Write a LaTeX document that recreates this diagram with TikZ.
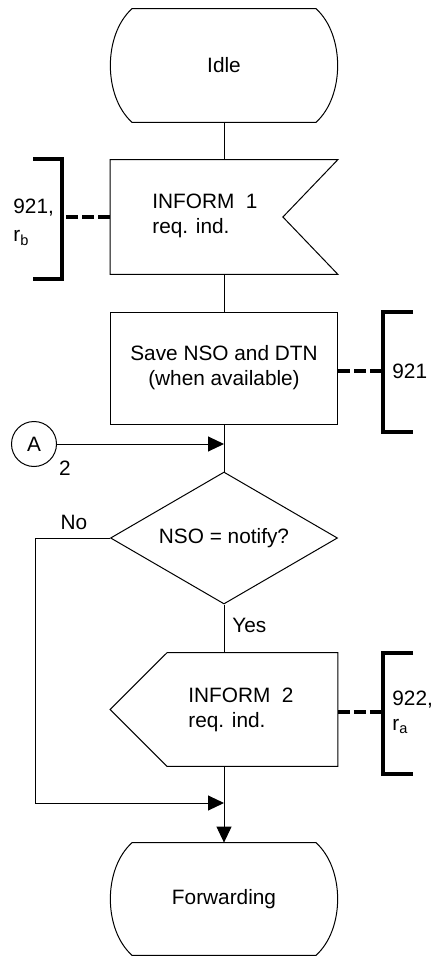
\documentclass[tikz,border=0pt]{standalone}
\usepackage{fontspec}
\setmainfont{Liberation Sans}
\usepackage{tikz}
\usetikzlibrary{shapes.geometric, arrows.meta, positioning, calc}
\tikzset{
  txt/.style={font=\fontsize{10.4}{12.5}\selectfont, inner sep=0pt},
  shapebox/.style={rectangle, minimum width=113.5pt, inner sep=0pt},
  procbox/.style={shapebox, draw, line width=0.5pt, align=center, txt},
  decision/.style={diamond, draw, line width=0.5pt, minimum width=113.5pt,
    minimum height=66pt, aspect=1.72, inner sep=0pt, txt},
  connector/.style={circle, draw, line width=0.5pt, minimum size=22.5pt,
    inner sep=0pt, txt},
  flow/.style={line width=0.5pt},
  flowarrow/.style={flow, -{Triangle[length=8pt,width=7.5pt]}},
  bracket/.style={line width=1.7pt},
  commentline/.style={line width=1.7pt, dash pattern=on 6pt off 2pt}
}
% state symbol: straight top and bottom, bulging sides
\newcommand{\stateshape}[1]{%
  \draw[flow] ($(#1.north west)+(22,0)$) -- ($(#1.north east)+(-22,0)$)
    .. controls ($(#1.north east)+(7,26)$) and ($(#1.south east)+(7,-26)$) .. ($(#1.south east)+(-22,0)$)
    -- ($(#1.south west)+(22,0)$)
    .. controls ($(#1.south west)+(-7,-26)$) and ($(#1.north west)+(-7,26)$) .. cycle;}
\begin{document}
\begin{tikzpicture}[x=0.5pt, y=-0.5pt]
  \useasboundingbox (0,0) rectangle (433,957);

  % States
  \node[shapebox, minimum height=56.5pt, txt] (idle) at (224,65.5) {Idle};
  \stateshape{idle}
  \node[shapebox, minimum height=56pt, txt] (fwd) at (224,899) {Forwarding};
  \stateshape{fwd}

  % Input signal
  \node[shapebox, minimum height=57pt] (inf1) at (224,217) {};
  \draw[flow] (inf1.north west) -- (inf1.north east) -- ($(inf1.east)+(-55,0)$)
    -- (inf1.south east) -- (inf1.south west) -- cycle;
  \node[txt, align=left, anchor=west] (inf1txt) at (152,216) {INFORM~~1\\req. ind.};

  % Task
  \node[procbox, minimum height=56pt] (save) at (224,368)
    {Save NSO and DTN\\(when available)};

  % Decision
  \node[decision] (dec) at (224,538) {NSO = notify?};

  % Output signal
  \node[shapebox, minimum height=56.5pt] (inf2) at (224,709.5) {};
  \draw[flow] ($(inf2.north west)+(57,0)$) -- (inf2.north east) -- (inf2.south east)
    -- ($(inf2.south west)+(57,0)$) -- (inf2.west) -- cycle;
  \node[txt, align=left, anchor=west] (inf2txt) at (188,710) {INFORM~~2\\req. ind.};

  % Connector A
  \node[connector] (conA) at (34,444) {A};
  \node[txt] (conAnum) at (65,468) {2};

  % Flow lines
  \draw[flow] (idle.south) -- (inf1.north);
  \draw[flow] (inf1.south) -- (save.north);
  \draw[flow] (save.south) -- (dec.north);
  \draw[flowarrow] (conA) -- (dec.north |- conA);
  \draw[flow] (dec.south) -- (inf2.north);
  \draw[flowarrow] (inf2.south) -- (fwd.north);
  \coordinate (nobend) at (35,538);
  \coordinate (merge) at (224,803);
  \draw[flowarrow] (dec.west) -- (nobend) |- (merge);
  \node[txt] (nolbl) at (74,522) {No};
  \node[txt, anchor=west] (yeslbl) at (232,625) {Yes};

  % Comments
  \coordinate (cm1) at (62,217);
  \draw[commentline] (inf1.west) -- (cm1);
  \draw[bracket] (cm1) ++(-29,-58) -- ++(29,0) -- ++(0,120) -- ++(-29,0);
  \node[txt, align=left, anchor=west] (cm1txt) at (13,222) {921,\\[1.5pt]r\textsubscript{b}};

  \coordinate (cm2) at (383,371);
  \draw[commentline] (save.east |- cm2) -- (cm2);
  \draw[bracket] (cm2) ++(30,-59) -- ++(-30,0) -- ++(0,120) -- ++(30,0);
  \node[txt, anchor=west] (cm2txt) at (392,371) {921};

  \coordinate (cm3) at (383,712);
  \draw[commentline] (inf2.east |- cm3) -- (cm3);
  \draw[bracket] (cm3) ++(30,-59) -- ++(-30,0) -- ++(0,121) -- ++(30,0);
  \node[txt, align=left, anchor=west] (cm3txt) at (392,712) {922,\\r\textsubscript{a}};
\end{tikzpicture}
\end{document}
